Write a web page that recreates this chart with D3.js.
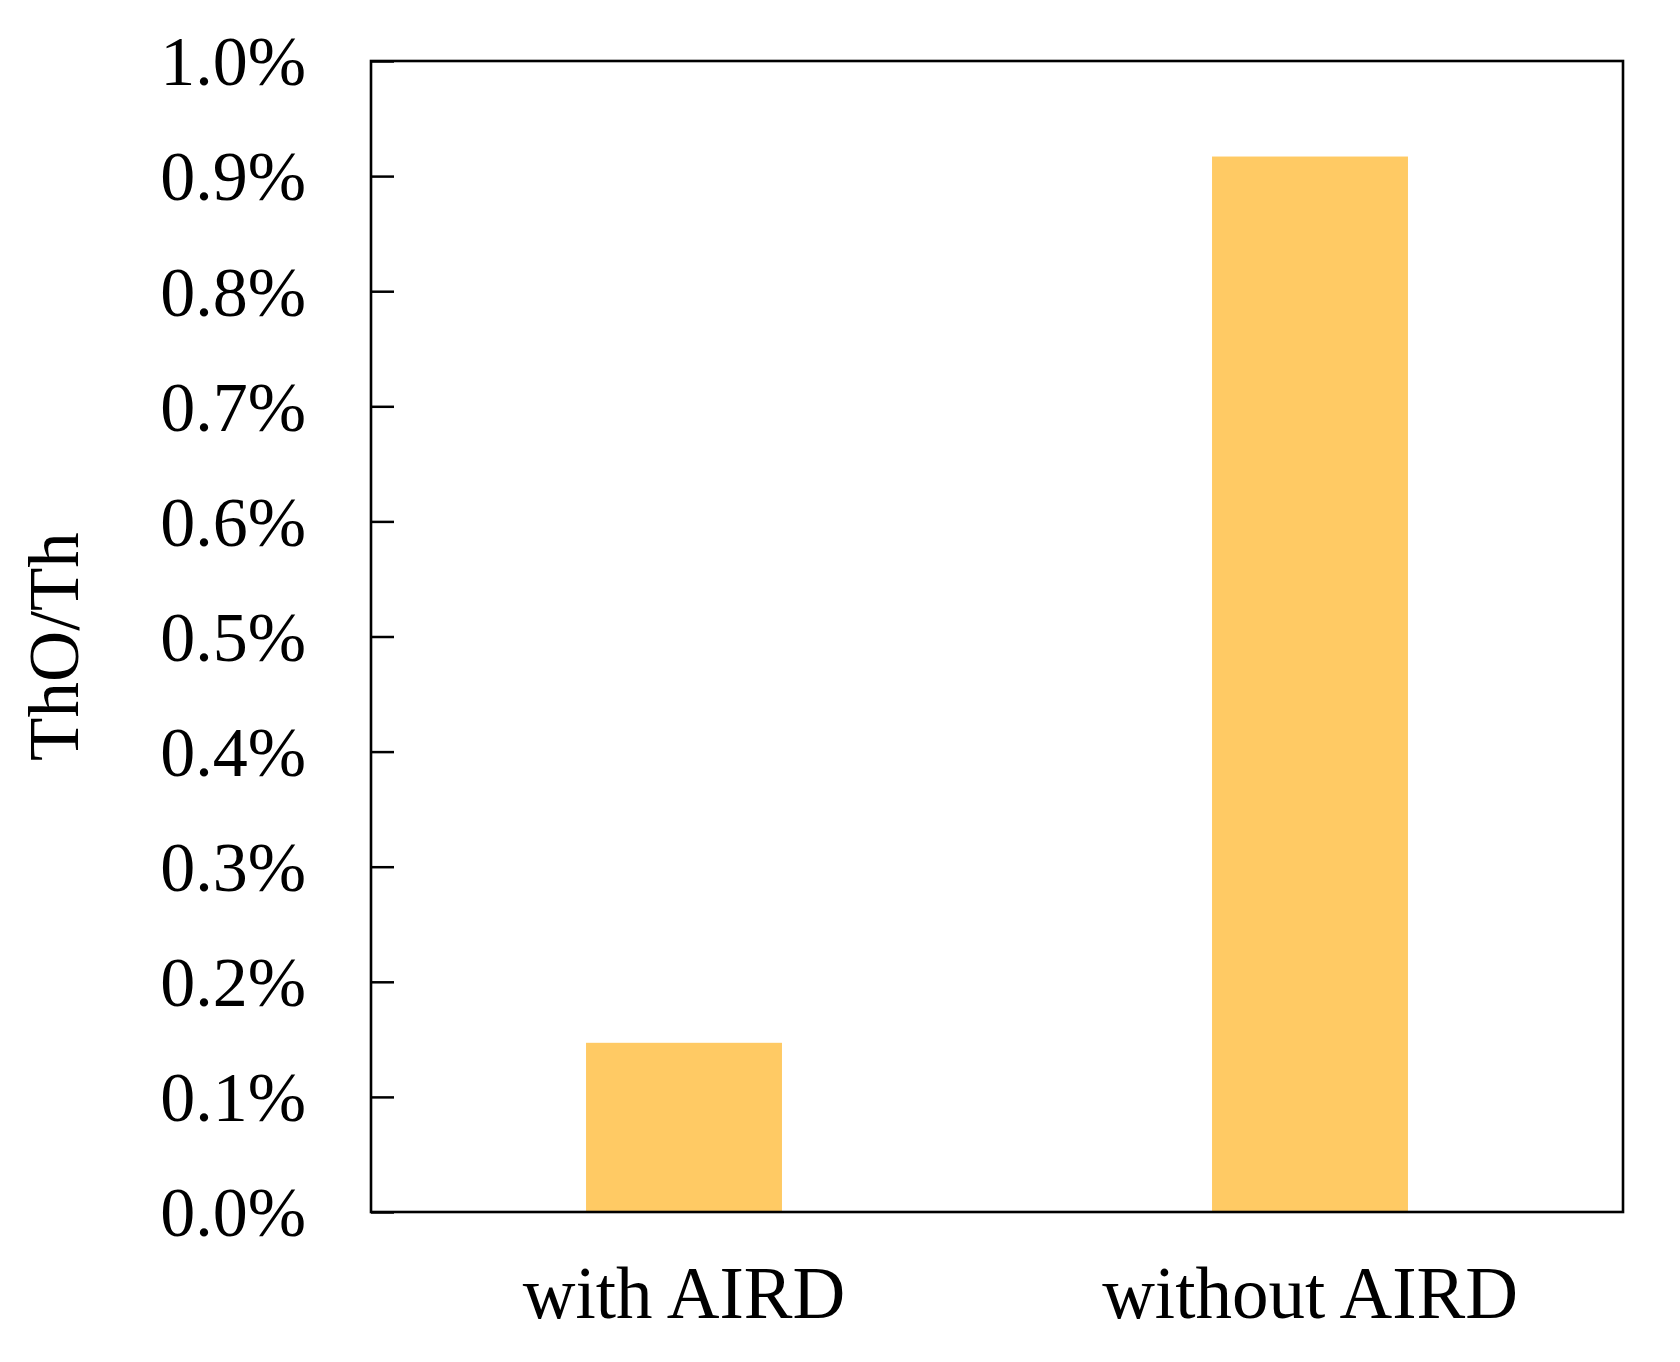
<!DOCTYPE html>
<html>
<head>
<meta charset="utf-8">
<script src="https://cdn.jsdelivr.net/npm/d3@7"></script>
<style>
  html, body { margin: 0; padding: 0; background: #fff; }
  svg { display: block; }
  text { font-family: "Liberation Serif", "Times New Roman", serif; fill: #000; }
</style>
</head>
<body>
<svg id="chart" width="1680" height="1362"></svg>
<script>
const categories = ["with AIRD", "without AIRD"];
const values = [0.147, 0.917];           // ThO/Th in %
const yTicks = [0, 0.1, 0.2, 0.3, 0.4, 0.5, 0.6, 0.7, 0.8, 0.9, 1.0];
const yTitle = "ThO/Th";

const plotLeft = 371, plotRight = 1623, plotTop = 61, plotBottom = 1212;
const svg = d3.select("#chart");

const x = d3.scaleBand().domain(categories).range([plotLeft, plotRight])
  .paddingInner(0.687).paddingOuter(0.3435);
const y = d3.scaleLinear().domain([0, 1.0]).range([plotBottom, plotTop]);

// bars
svg.append("g").selectAll("rect").data(categories).join("rect")
  .attr("x", d => x(d))
  .attr("width", x.bandwidth())
  .attr("y", (d, i) => y(values[i]))
  .attr("height", (d, i) => y(0) - y(values[i]))
  .attr("fill", "#ffca64");

// y axis
const yAxis = svg.append("g").attr("transform", `translate(${plotLeft},0)`)
  .call(d3.axisLeft(y).tickValues(yTicks).tickSize(-23).tickPadding(65)
    .tickFormat(d => d.toFixed(1) + "%"));
yAxis.select(".domain").remove();
yAxis.selectAll(".tick line").attr("stroke", "#000").attr("stroke-width", 2.5);
yAxis.selectAll(".tick text")
  .style("font-family", '"Liberation Serif", "Times New Roman", serif')
  .attr("font-size", 70).attr("dy", "0.34em").attr("fill", "#000");

// x axis labels
const xAxis = svg.append("g").attr("transform", `translate(0,${plotBottom})`)
  .call(d3.axisBottom(x).tickSize(0).tickPadding(0));
xAxis.select(".domain").remove();
xAxis.selectAll(".tick text")
  .style("font-family", '"Liberation Serif", "Times New Roman", serif')
  .attr("font-size", 73).attr("y", 106).attr("dy", 0).attr("fill", "#000");

// frame
svg.append("rect")
  .attr("x", plotLeft).attr("y", plotTop)
  .attr("width", plotRight - plotLeft).attr("height", plotBottom - plotTop)
  .attr("fill", "none").attr("stroke", "#000").attr("stroke-width", 2.6);

// y title
svg.append("text")
  .attr("transform", `translate(78,${(plotTop + plotBottom) / 2 + 10}) rotate(-90)`)
  .attr("text-anchor", "middle")
  .attr("font-size", 71)
  .text(yTitle);
</script>
</body>
</html>
